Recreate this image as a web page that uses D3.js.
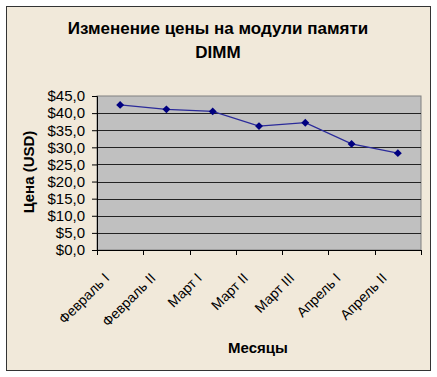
<!DOCTYPE html>
<html>
<head>
<meta charset="utf-8">
<script src="https://cdn.jsdelivr.net/npm/d3@7"></script>
<style>
  body { margin: 0; background: #fff; }
  svg text { font-family: "Liberation Sans", Arial, sans-serif; fill: #000; }
</style>
</head>
<body>
<div id="chart"></div>
<script>
// Chart data
const periods = ['Февраль I', 'Февраль II', 'Март I', 'Март II', 'Март III', 'Апрель I', 'Апрель II'];
const prices = [42.4, 41.1, 40.5, 36.2, 37.2, 31.0, 28.3];
const yTicks = [0, 5, 10, 15, 20, 25, 30, 35, 40, 45];

const W = 437, H = 377;
const margin = { top: 96, right: 16, bottom: 127, left: 97 };
const width = W - margin.left - margin.right;
const height = H - margin.top - margin.bottom;

const svg = d3.select('#chart').append('svg')
  .attr('width', W)
  .attr('height', H);

// Outer chart area
svg.append('rect')
  .attr('x', 6.5).attr('y', 6.5)
  .attr('width', 424).attr('height', 364)
  .attr('fill', '#f1e9da')
  .attr('stroke', '#333')
  .attr('stroke-width', 1);

// Title
const title = svg.append('text')
  .attr('text-anchor', 'middle')
  .style('font-size', '17px')
  .style('font-weight', 'bold');
title.append('tspan').attr('x', 218).attr('y', 34).text('Изменение цены на модули памяти');
title.append('tspan').attr('x', 218).attr('y', 58).text('DIMM');

const x = d3.scaleBand().domain(periods).range([0, width]);
const y = d3.scaleLinear().domain([0, 45]).range([height, 0]);

const g = svg.append('g')
  .attr('transform', `translate(${margin.left}, ${margin.top})`);

// Plot area
g.append('rect')
  .attr('width', width)
  .attr('height', height)
  .attr('fill', '#c0c0c0')
  .attr('stroke', '#808080');

// Gridlines
g.append('g')
  .selectAll('line')
  .data(yTicks.filter(d => d > 0 && d < 45))
  .enter()
  .append('line')
  .attr('x1', 0)
  .attr('x2', width)
  .attr('y1', d => Math.round(y(d)) + 0.5)
  .attr('y2', d => Math.round(y(d)) + 0.5)
  .attr('stroke', '#222');

// Y axis
const yAxis = d3.axisLeft(y)
  .tickValues(yTicks)
  .tickSize(5)
  .tickPadding(7)
  .tickFormat(d => '$' + d.toFixed(1).replace('.', ','));

const yG = g.append('g').call(yAxis);
yG.select('.domain').attr('stroke', '#000');
yG.selectAll('.tick line').attr('stroke', '#000');
yG.selectAll('text').style('font-size', '15px').attr('fill', '#000');

// X axis (ticks at category boundaries)
const xG = g.append('g').attr('transform', `translate(0, ${height})`);
xG.append('line')
  .attr('x1', 0).attr('x2', width)
  .attr('y1', 0.5).attr('y2', 0.5)
  .attr('stroke', '#000');
xG.selectAll('.bound')
  .data(d3.range(periods.length + 1))
  .enter()
  .append('line')
  .attr('class', 'bound')
  .attr('x1', i => Math.round(i * x.step()) + 0.5)
  .attr('x2', i => Math.round(i * x.step()) + 0.5)
  .attr('y1', 0)
  .attr('y2', 5)
  .attr('stroke', '#000');
xG.selectAll('.lbl')
  .data(periods)
  .enter()
  .append('text')
  .attr('class', 'lbl')
  .attr('text-anchor', 'end')
  .style('font-size', '14px')
  .attr('transform', d => `translate(${x(d) + x.bandwidth() / 2 - 10}, 29) rotate(-45)`)
  .text(d => d);

// Axis titles
svg.append('text')
  .attr('text-anchor', 'middle')
  .style('font-size', '15px')
  .style('font-weight', 'bold')
  .attr('transform', 'translate(34, 172) rotate(-90)')
  .text('Цена (USD)');

svg.append('text')
  .attr('x', 258)
  .attr('y', 353)
  .attr('text-anchor', 'middle')
  .style('font-size', '15px')
  .style('font-weight', 'bold')
  .text('Месяцы');

// Line
const line = d3.line()
  .x(d => x(d.p) + x.bandwidth() / 2)
  .y(d => y(d.v));

const data = periods.map((p, i) => ({ p, v: prices[i] }));

g.append('path')
  .datum(data)
  .attr('fill', 'none')
  .attr('stroke', '#2a2a9a')
  .attr('stroke-width', 1.2)
  .attr('d', line);

// Diamond markers
g.append('g')
  .selectAll('path')
  .data(data)
  .enter()
  .append('path')
  .attr('d', d3.symbol().type(d3.symbolDiamond2).size(40))
  .attr('transform', d => `translate(${x(d.p) + x.bandwidth() / 2}, ${y(d.v)})`)
  .attr('fill', '#000080');
</script>
</body>
</html>
